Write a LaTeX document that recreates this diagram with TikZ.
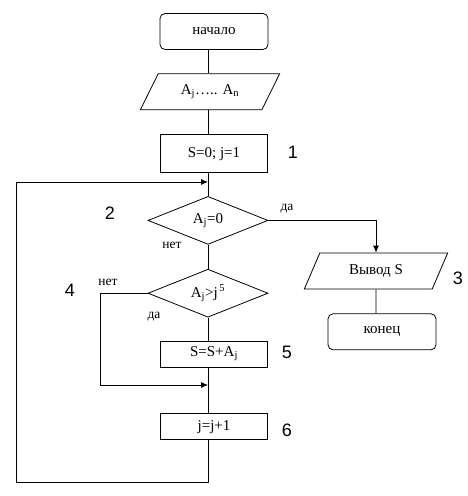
\documentclass[tikz,border=0pt]{standalone}
\usepackage{fontspec}
\setmainfont{Liberation Serif}
\newfontfamily\numfont{Liberation Sans}
\usetikzlibrary{shapes.geometric,arrows.meta,positioning}

\begin{document}
\begin{tikzpicture}[x=1pt,y=-1pt,>={Latex[length=7pt,width=6pt]},line width=0.8pt,
    font=\fontsize{15}{17}\selectfont]
  \tikzstyle{term}=[draw,rounded corners=5pt,minimum width=108pt,minimum height=36pt]
  \tikzstyle{proc}=[draw,minimum width=107pt,inner sep=0pt]
  \tikzstyle{io}=[draw,trapezium,trapezium stretches=true,inner sep=0pt,minimum height=36pt]
  \tikzstyle{cond}=[draw,diamond,shape aspect=2.5,inner sep=0pt,minimum width=120pt,minimum height=48pt]
  \tikzstyle{num}=[font=\numfont\fontsize{18}{20}\selectfont]
  \tikzstyle{ans}=[font=\fontsize{13.5}{15}\selectfont]

  \useasboundingbox (0,0) rectangle (467,496);

  % Main column
  \node[term] (start) at (214,31.5) {начало};
  \node[io,trapezium left angle=55,trapezium right angle=125,minimum width=140pt]
    (inA) [below=23.5pt of start, xshift=-4pt] {A\textsubscript{j}….. A\textsubscript{n}};
  \node[proc,minimum height=38pt] (init) [below=24pt of inA, xshift=4pt] {S=0; j=1};
  \node[cond] (zero) [below=23pt of init, xshift=-6pt] {A\textsubscript{j}=0};
  \node[cond] (cmp) [below=24pt of zero] {A\textsubscript{j}>j\textsuperscript{\,5}};
  \node[proc,minimum height=26pt] (add) [below=23pt of cmp, xshift=6pt] {S=S+A\textsubscript{j}};
  \node[proc,minimum height=26pt] (inc) [below=46pt of add] {j=j+1};

  % Output branch
  \node[io,trapezium left angle=60,trapezium right angle=120,minimum width=144pt]
    (out) at (376,271) {Вывод S};
  \node[term] (fin) [below=24pt of out, xshift=6pt] {конец};

  % Block numbers
  \node[num] at (293,152) {1};
  \node[num] at (110,213) {2};
  \node[num] at (458,278) {3};
  \node[num] at (70,290) {4};
  \node[num] at (287,352) {5};
  \node[num] at (287,430) {6};

  % Join points
  \coordinate (join1) at (208,182);
  \coordinate (join2) at (208,385);
  \coordinate (back) at (16,482);
  \coordinate (bypass) at (100,385);

  % Edges
  \draw (start.south -| zero) -- (inA.north -| zero);
  \draw (inA.south -| zero) -- (init.north -| zero);
  \draw (init.south -| zero) -- (zero.north);
  \draw (zero.south) -- (cmp.north);
  \draw (cmp.south) -- (add.north -| cmp);
  \draw (add.south -| cmp) -- (inc.north -| cmp);
  \draw (out.south) -- (fin.north -| out);

  \draw[->] (zero.east) -| (out.north);
  \draw[->] (cmp.west) -| (bypass) -- (join2);
  \draw[->] (inc.south -| cmp) |- (back) |- (join1);

  % Answers
  \node[ans] at (287,209) {да};
  \node[ans] at (172,245) {нет};
  \node[ans] at (108,282) {нет};
  \node[ans] at (154,317) {да};
\end{tikzpicture}
\end{document}
